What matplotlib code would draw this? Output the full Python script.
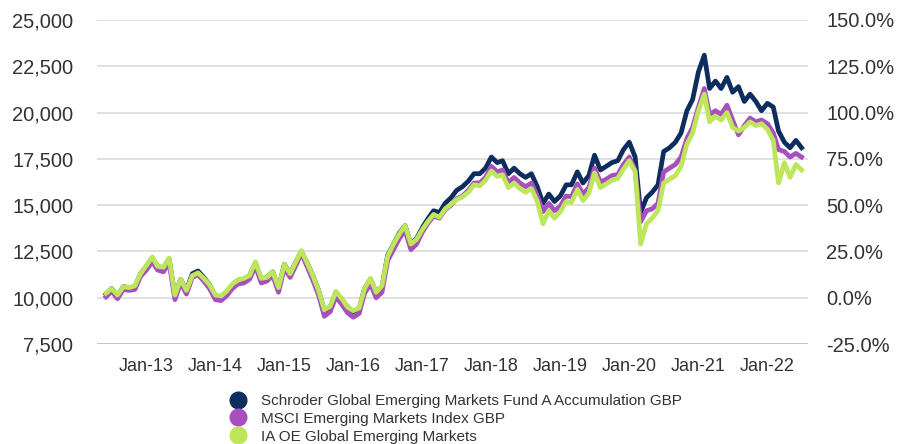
import matplotlib
matplotlib.use("Agg")
import matplotlib.pyplot as plt
import matplotlib.dates as mdates
from matplotlib.lines import Line2D
import pandas as pd

plt.rcParams["font.family"] = ["Liberation Sans", "DejaVu Sans"]

# monthly points, Jun 2012 -> Jul 2022 (growth of 10,000)
dates = pd.date_range("2012-06-01", periods=122, freq="MS")

fund = [
    10200, 10500, 10100, 10600, 10550, 10600, 11300,
    11700, 12150, 11700, 11600, 12100, 10100, 11000, 10400, 11300, 11450, 11100, 10700,
    10100, 10050, 10300, 10700, 10950, 11000, 11200, 11900, 11000, 11100, 11400, 10500,
    11800, 11300, 11900, 12500, 11900, 11200, 10400, 9300, 9500, 10300, 9900, 9500,
    9250, 9400, 10500, 11000, 10300, 10600, 12300, 12900, 13500, 13900, 12900, 13200,
    13800, 14300, 14700, 14600, 15100, 15400, 15800, 16000, 16300, 16700, 16700, 17000,
    17600, 17300, 17400, 16700, 17000, 16700, 16500, 16700, 16000, 15100, 15600, 15200,
    15500, 16100, 16100, 16800, 16200, 16600, 17700, 16900, 17100, 17300, 17400, 18000,
    18400, 17600, 14600, 15400, 15700, 16100, 17900, 18100, 18400, 18900, 20100, 20700,
    22200, 23100, 21300, 21700, 21300, 21900, 21100, 21400, 20600, 21000, 20600, 20100,
    20500, 20300, 19000, 18400, 18100, 18500, 18100,
]

msci = [
    10050, 10350, 9950, 10450, 10400, 10450, 11150,
    11500, 11950, 11500, 11400, 11900, 9900, 10800, 10200, 11100, 11250, 10900, 10500,
    9900, 9850, 10100, 10500, 10750, 10800, 11000, 11700, 10800, 10900, 11200, 10300,
    11600, 11100, 11700, 12400, 11700, 10950, 10150, 9000, 9250, 10050, 9650, 9200,
    8950, 9150, 10250, 10750, 10000, 10300, 12000, 12600, 13200, 13650, 12600, 12900,
    13550, 14050, 14400, 14300, 14750, 15000, 15350, 15500, 15800, 16200, 16200, 16500,
    17100, 16800, 16900, 16200, 16500, 16200, 16000, 16200, 15500, 14650, 15100, 14700,
    14950, 15500, 15450, 16150, 15600, 15950, 17000, 16250, 16400, 16600, 16650, 17200,
    17600, 16900, 14100, 14700, 14800, 15100, 16800, 17000, 17200, 17600, 18600, 19200,
    20300, 21300, 19900, 20100, 19900, 20400, 19600, 18800, 19300, 19700, 19500, 19600,
    19400, 18900, 18000, 17900, 17600, 17800, 17600,
]

sector = [
    10250, 10500, 10150, 10600, 10550, 10650, 11300,
    11750, 12200, 11700, 11650, 12150, 10150, 11000, 10400, 11200, 11350, 11050, 10700,
    10150, 10100, 10350, 10750, 10950, 11050, 11200, 11950, 11050, 11100, 11400, 10550,
    11800, 11300, 11900, 12550, 11900, 11200, 10400, 9350, 9550, 10350, 9950, 9500,
    9300, 9450, 10500, 11050, 10300, 10650, 12250, 12900, 13450, 13900, 12900, 13150,
    13700, 14150, 14500, 14350, 14800, 15050, 15300, 15450, 15700, 16100, 16050, 16350,
    16850, 16550, 16650, 15950, 16200, 15900, 15700, 15900, 15200, 14000, 14700, 14300,
    14650, 15200, 15150, 15850, 15250, 15650, 16750, 15950, 16150, 16350, 16450, 16950,
    17400, 16800, 12900, 14000, 14300, 14700, 16200, 16400, 16600, 17100, 18300, 18900,
    20100, 21000, 19500, 19800, 19600, 20000, 19200, 19000, 19200, 19500, 19300, 19400,
    19100, 18500, 16200, 17300, 16500, 17200, 16900,
]

labels = [
    "Schroder Global Emerging Markets Fund A Accumulation GBP",
    "MSCI Emerging Markets Index GBP",
    "IA OE Global Emerging Markets",
]
colors = ["#0c2d5e", "#a84fc0", "#bde65b"]

left_ticks = [7500, 10000, 12500, 15000, 17500, 20000, 22500, 25000]
right_ticks = [-25, 0, 25, 50, 75, 100, 125, 150]

fig = plt.figure(figsize=(8.99, 4.44), dpi=100)
ax = fig.add_axes([0.108, 0.225, 0.791, 0.730])

for series, col in zip([fund, msci, sector], colors):
    ax.plot(dates, series, color=col, lw=3.4, solid_joinstyle="round")

ax.set_ylim(7500, 25000)
ax.set_yticks(left_ticks)
ax.set_yticklabels([f"{v:,}" for v in left_ticks])
ax.set_xlim(pd.Timestamp("2012-04-15"), pd.Timestamp("2022-08-05"))
ax.xaxis.set_major_locator(mdates.YearLocator(month=1, day=1))
ax.xaxis.set_major_formatter(mdates.DateFormatter("%b-%y"))

for v in left_ticks:
    ax.axhline(v, color="#c4c4c4" if v == 7500 else "#e0e0e0", lw=1.4, zorder=0)

for s in ax.spines.values():
    s.set_visible(False)
ax.tick_params(axis="x", length=0, labelsize=13, colors="#333333", pad=10)
ax.tick_params(axis="y", length=0, labelsize=14.5, colors="#333333", pad=17)

ax2 = ax.twinx()
ax2.set_ylim(-25, 150)
ax2.set_yticks(right_ticks)
ax2.set_yticklabels([f"{v:.1f}%" for v in right_ticks])
for s in ax2.spines.values():
    s.set_visible(False)
ax2.tick_params(axis="y", length=0, labelsize=14.5, colors="#333333", pad=13)

handles = [Line2D([], [], marker="o", ls="", color=c, markersize=12) for c in colors]
fig.legend(handles, labels, loc="upper left", bbox_to_anchor=(0.249, 0.126),
           frameon=False, fontsize=11, handletextpad=1.0, labelspacing=0.24,
           borderaxespad=0, handlelength=1.0, labelcolor="#333333")

fig.savefig("out.png", dpi=100)
